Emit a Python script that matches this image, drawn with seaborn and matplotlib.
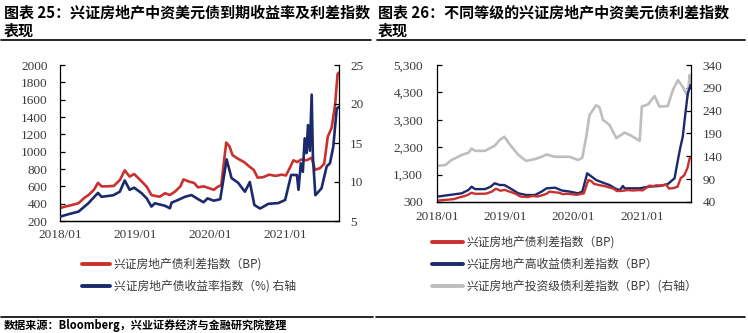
import matplotlib
matplotlib.use("Agg")
import matplotlib.pyplot as plt
import matplotlib.dates as mdates
from matplotlib.lines import Line2D
import seaborn as sns
import pandas as pd

# ---------------- data ----------------
red_dates = ["2018-01-01","2018-02-01","2018-03-01","2018-04-01","2018-05-01","2018-05-20","2018-06-15",
             "2018-07-05","2018-07-22","2018-08-20","2018-09-20","2018-10-20","2018-11-12","2018-12-06",
             "2018-12-28","2019-02-03","2019-02-27","2019-03-22","2019-04-08","2019-05-01","2019-05-27",
             "2019-06-20","2019-07-15","2019-08-10","2019-08-25","2019-09-20","2019-10-15","2019-11-04",
             "2019-12-01","2019-12-20","2020-01-20","2020-02-05","2020-02-25","2020-03-20","2020-04-05",
             "2020-04-20","2020-05-15","2020-06-15","2020-07-10","2020-08-01","2020-08-20","2020-09-15",
             "2020-10-15","2020-11-15","2020-12-15","2021-01-05","2021-01-25","2021-02-10","2021-03-01",
             "2021-03-20","2021-04-15","2021-05-10","2021-05-26","2021-06-20","2021-07-10","2021-07-27",
             "2021-08-15","2021-09-01","2021-09-13","2021-09-18"]
red_vals = [350,370,385,405,470,500,560,
            640,600,600,605,675,785,712,
            742,655,596,500,490,480,520,
            500,540,600,680,655,640,588,
            600,585,560,590,615,1105,1060,
            960,920,880,830,790,700,705,
            735,720,735,725,820,900,880,
            910,900,930,790,810,860,1170,
            1275,1540,1895,1910]

yld_dates = ["2018-01-01","2018-02-15","2018-04-01","2018-05-18","2018-07-05","2018-07-22","2018-09-17",
             "2018-10-19","2018-11-12","2018-12-06","2018-12-28","2019-02-03","2019-02-27","2019-03-22",
             "2019-04-08","2019-05-27","2019-06-20","2019-06-28","2019-07-30","2019-09-01","2019-10-03",
             "2019-11-04","2019-12-01","2019-12-20","2020-01-20","2020-02-20","2020-03-22","2020-04-15",
             "2020-05-17","2020-06-19","2020-07-13","2020-08-04","2020-09-01","2020-10-11","2020-11-29",
             "2021-01-01","2021-01-30","2021-02-27","2021-03-07","2021-03-18","2021-03-28","2021-04-06",
             "2021-04-15","2021-04-22","2021-05-01","2021-05-10","2021-05-16","2021-05-28","2021-06-27",
             "2021-07-22","2021-08-07","2021-08-23","2021-09-09","2021-09-18"]
yld_vals = [5.55,5.9,6.2,7.25,8.6,8.1,8.3,
            8.75,10.2,9.0,9.27,8.55,7.9,6.85,
            7.27,6.95,6.63,7.35,7.7,8.1,8.33,
            7.8,7.4,7.9,7.6,7.8,12.9,10.5,
            9.9,8.75,10.0,7.05,6.6,7.2,7.3,
            7.7,10.9,10.9,9.0,12.4,11.3,15.6,
            13.7,17.3,14.0,21.2,13.2,8.3,9.2,
            12.0,12.4,14.5,19.4,19.6]

hy_dates = ["2018-01-01","2018-03-20","2018-05-13","2018-06-18","2018-07-05","2018-07-24","2018-09-14",
            "2018-10-15","2018-11-05","2018-12-03","2018-12-27","2019-01-27","2019-03-12","2019-04-23",
            "2019-06-09","2019-07-14","2019-08-10","2019-09-25","2019-10-30","2019-12-11","2020-01-25",
            "2020-02-17","2020-03-14","2020-03-26","2020-05-01","2020-06-06","2020-07-11","2020-08-17",
            "2020-09-05","2020-09-21","2020-09-30","2020-12-20","2021-02-03","2021-04-04","2021-05-19",
            "2021-06-24","2021-07-12","2021-07-24","2021-08-07","2021-08-21","2021-09-03","2021-09-18"]
hy_vals = [494,567,617,738,858,770,770,
           858,982,920,920,800,617,555,
           555,680,800,822,720,680,617,
           680,1347,1286,1102,1006,920,770,
           738,884,800,800,858,884,955,
           1165,1833,2260,2683,3537,4267,4570]

ig_dates = ["2018-01-01","2018-02-15","2018-03-20","2018-05-13","2018-06-18","2018-07-05","2018-07-24",
            "2018-09-14","2018-11-05","2018-12-03","2018-12-27","2019-01-27","2019-03-12","2019-04-23",
            "2019-06-09","2019-07-14","2019-08-10","2019-09-25","2019-10-30","2019-12-11","2020-01-25",
            "2020-02-17","2020-03-09","2020-03-26","2020-05-01","2020-05-19","2020-06-06","2020-07-11",
            "2020-08-17","2020-09-30","2020-11-05","2020-12-20","2020-12-31","2021-02-03","2021-03-09",
            "2021-04-04","2021-05-19","2021-06-15","2021-07-12","2021-08-07","2021-09-03","2021-09-12",
            "2021-09-18"]
ig_vals = [119,121,132,143,148,157,152,
           152,163,176,183,165,143,130,
           134,139,144,139,139,139,132,
           137,183,230,252,247,220,209,
           180,192,185,174,249,254,272,
           249,250,285,307,292,271,318,
           296]

left_ticks = [200,400,600,800,1000,1200,1400,1600,1800,2000]
left_rticks = [5,10,15,20,25]
right_ticks = [300,1300,2300,3300,4300,5300]
right_rticks = [40,90,140,190,240,290,340]
x_ticks = ["2018-01-01","2019-01-01","2020-01-01","2021-01-01"]

title_left = ["图表 25：兴证房地产中资美元债到期收益率及利差指数", "表现"]
title_right = ["图表 26：不同等级的兴证房地产中资美元债利差指数", "表现"]
legend_left = ["兴证房地产债利差指数（BP)", "兴证房地产债收益率指数（%) 右轴"]
legend_right = ["兴证房地产债利差指数（BP)", "兴证房地产高收益债利差指数（BP）", "兴证房地产投资级债利差指数（BP）(右轴）"]
source = "数据来源：Bloomberg，兴业证券经济与金融研究院整理"

RED = "#C8312F"
BLUE = "#1C2A6C"
GRAY = "#BEBEBE"
TXT = "#3a3a3a"

sns.set_style("white")
plt.rcParams["font.family"] = ["Noto Sans CJK SC", "DejaVu Sans"]

df_red = pd.DataFrame({"date": pd.to_datetime(red_dates), "v": red_vals})
df_yld = pd.DataFrame({"date": pd.to_datetime(yld_dates), "v": yld_vals})
df_hy = pd.DataFrame({"date": pd.to_datetime(hy_dates), "v": hy_vals})
df_ig = pd.DataFrame({"date": pd.to_datetime(ig_dates), "v": ig_vals})

W, H = 748, 333
fig = plt.figure(figsize=(W / 100, H / 100), dpi=100)

def fx(px):
    return px / W

def fy(py):
    return 1 - py / H

ax1 = fig.add_axes([fx(60), fy(221), fx(339 - 60), (221 - 65) / H])
ax2 = fig.add_axes([fx(437), fy(202), fx(691 - 437), (202 - 65) / H])

xmin, xmax = pd.Timestamp("2018-01-01"), pd.Timestamp("2021-09-20")

# left panel
sns.lineplot(data=df_red, x="date", y="v", ax=ax1, color=RED, lw=1.9)
ax1b = ax1.twinx()
sns.lineplot(data=df_yld, x="date", y="v", ax=ax1b, color=BLUE, lw=1.9)
ax1.set_ylim(200, 2000)
ax1b.set_ylim(5, 25)
ax1.set_yticks(left_ticks)
ax1b.set_yticks(left_rticks)

# right panel
ax2b = ax2.twinx()
sns.lineplot(data=df_ig, x="date", y="v", ax=ax2b, color=GRAY, lw=1.9)
sns.lineplot(data=df_hy, x="date", y="v", ax=ax2, color=BLUE, lw=1.7)
sns.lineplot(data=df_red, x="date", y="v", ax=ax2, color=RED, lw=1.7)
ax2.set_zorder(ax2b.get_zorder() + 1)
ax2.patch.set_visible(False)
ax2.set_ylim(300, 5300)
ax2b.set_ylim(40, 340)
ax2.set_yticks(right_ticks)
ax2.set_yticklabels([f"{t:,}" for t in right_ticks])
ax2b.set_yticks(right_rticks)

for a in (ax1, ax1b, ax2, ax2b):
    a.set_xlim(xmin, xmax)
    a.set_xticks(pd.to_datetime(x_ticks))
    a.xaxis.set_major_formatter(mdates.DateFormatter("%Y/%m"))
    a.set_xlabel("")
    a.set_ylabel("")
    a.spines["top"].set_visible(False)
    for s in ("left", "right", "bottom"):
        a.spines[s].set_color("black")
        a.spines[s].set_linewidth(0.9)
    a.tick_params(direction="in", length=3.5, width=0.9, colors="black", labelcolor=TXT)
    for lab in a.get_xticklabels() + a.get_yticklabels():
        lab.set_fontfamily("Liberation Serif")
        lab.set_fontsize(9.5)

ax1.spines["right"].set_visible(False)
ax2.spines["right"].set_visible(False)
ax1b.spines["left"].set_visible(False)
ax2b.spines["left"].set_visible(False)
ax1.tick_params(axis="y", pad=9)
ax1.tick_params(axis="x", pad=5.5)
ax1b.tick_params(axis="y", pad=8)
ax2.tick_params(axis="y", pad=10)
ax2.tick_params(axis="x", pad=6.5)
ax2b.tick_params(axis="y", pad=8.5)

# titles
for (x0, lines) in ((4, title_left), (378, title_right)):
    fig.text(fx(x0), fy(12), lines[0], fontsize=10.8, fontweight="bold", va="center", ha="left", color="black")
    fig.text(fx(x0), fy(31), lines[1], fontsize=10.8, fontweight="bold", va="center", ha="left", color="black")

# rules
fig.add_artist(Line2D([fx(1), fx(371)], [fy(40), fy(40)], color="black", lw=1.2))
fig.add_artist(Line2D([fx(377), fx(745)], [fy(40), fy(40)], color="black", lw=1.2))
fig.add_artist(Line2D([fx(1), fx(373)], [fy(317), fy(317)], color="black", lw=1.2))
fig.add_artist(Line2D([fx(376), fx(745)], [fy(317), fy(317)], color="black", lw=1.2))

# legends
lh_left = [Line2D([], [], color=RED, lw=2.8), Line2D([], [], color=BLUE, lw=2.8)]
fig.legend(lh_left, legend_left, loc="upper left", bbox_to_anchor=(fx(82), fy(258)),
           frameon=False, fontsize=8.5, handlelength=2.4, handletextpad=0.3,
           labelspacing=0.75, borderpad=0, borderaxespad=0, labelcolor=TXT)
lh_right = [Line2D([], [], color=RED, lw=2.8), Line2D([], [], color=BLUE, lw=2.8),
            Line2D([], [], color=GRAY, lw=2.8)]
fig.legend(lh_right, legend_right, loc="upper left", bbox_to_anchor=(fx(432), fy(236)),
           frameon=False, fontsize=8.5, handlelength=2.6, handletextpad=0.3,
           labelspacing=0.75, borderpad=0, borderaxespad=0, labelcolor=TXT)

fig.text(fx(4), fy(325), source, fontsize=8, fontweight="bold", va="center", ha="left", color="black")

fig.savefig("out.png", dpi=100)
